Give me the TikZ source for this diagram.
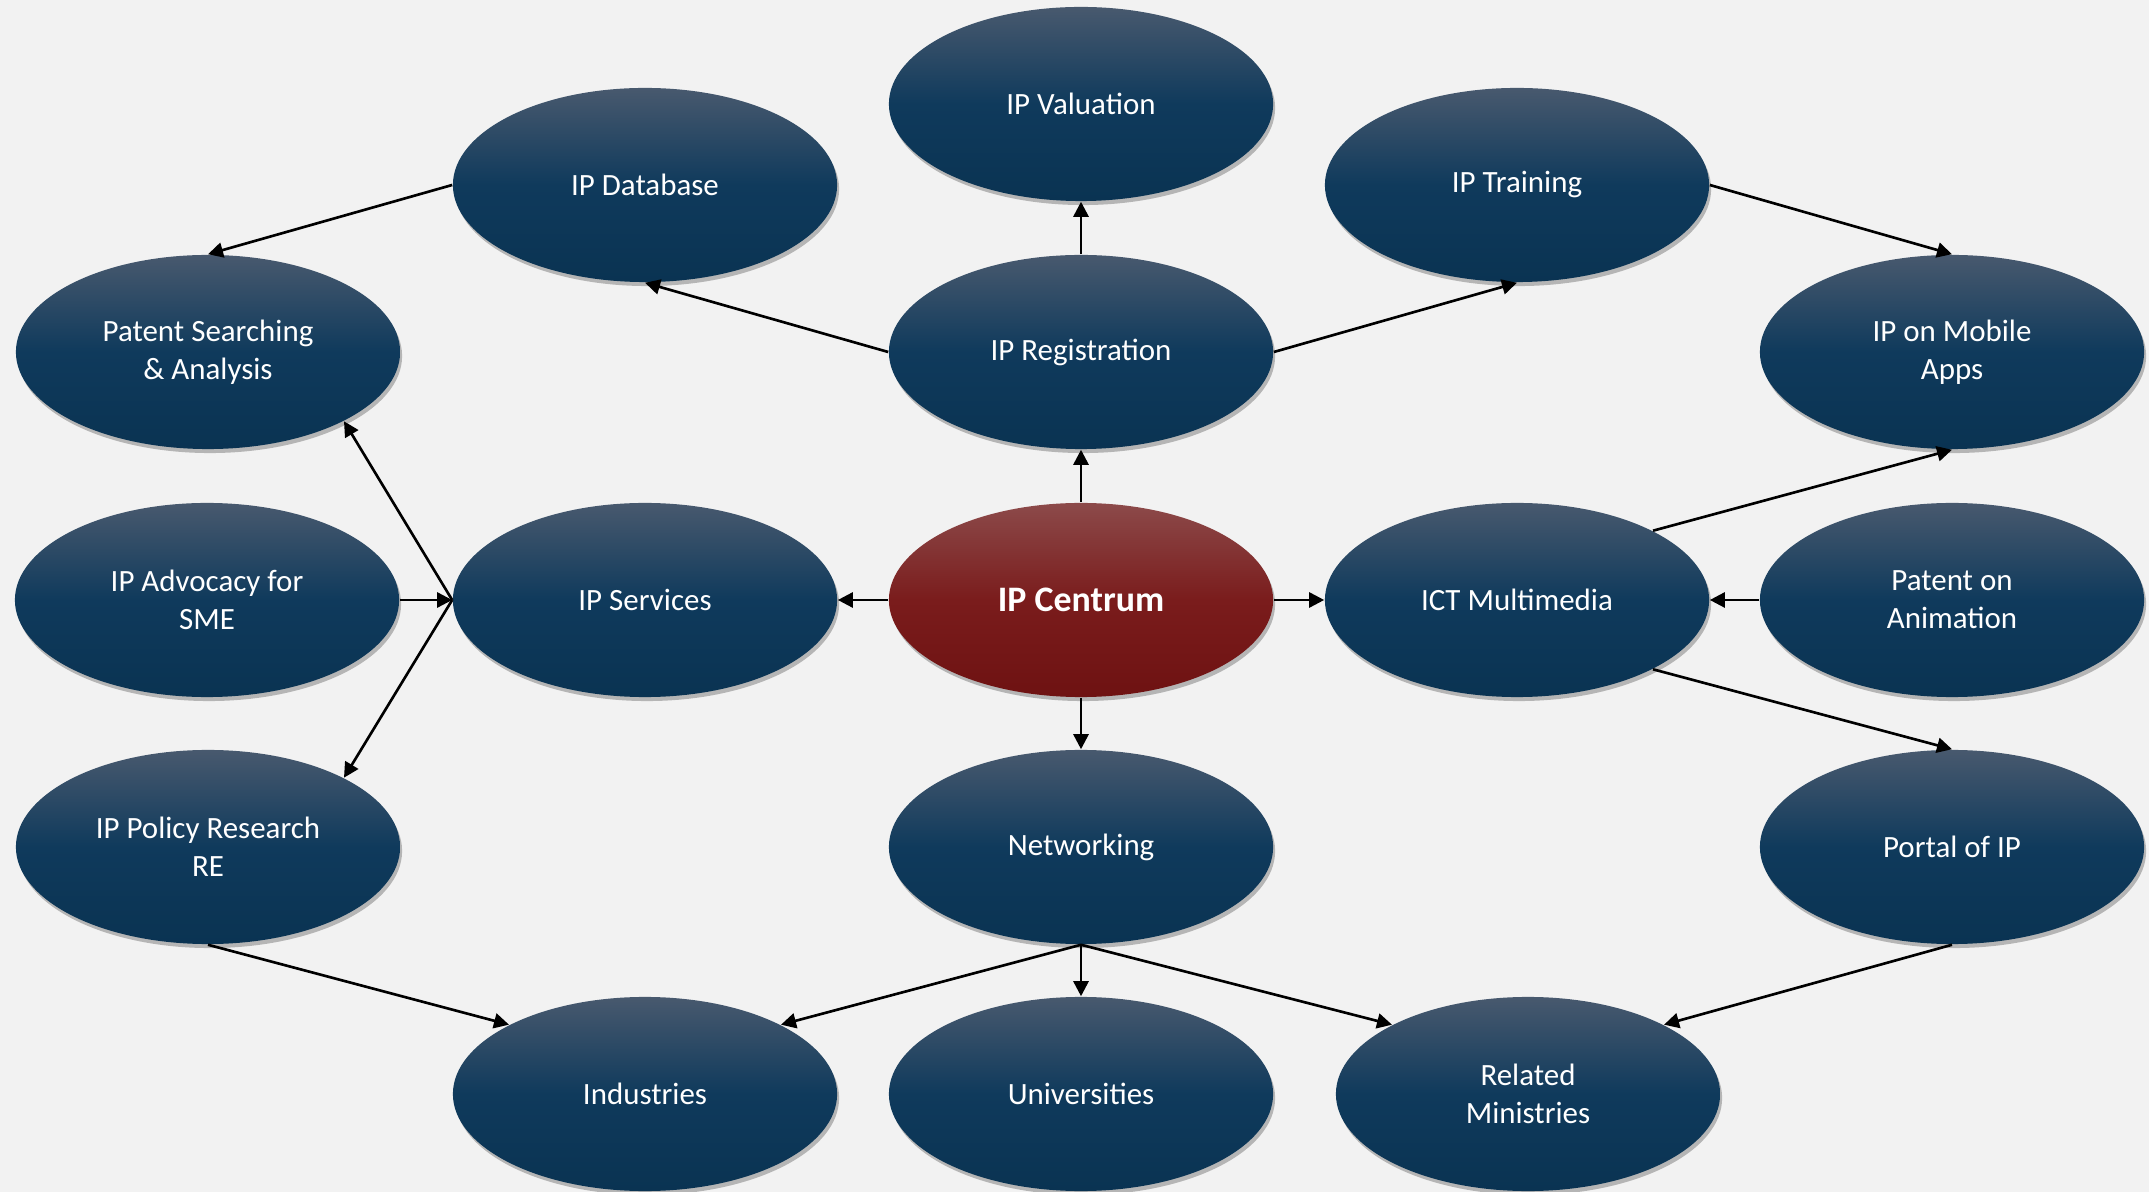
\documentclass[tikz,border=0pt]{standalone}
\usepackage{fontspec}
\setmainfont{Carlito}
\usetikzlibrary{shapes.geometric,arrows.meta,shadows}
\definecolor{bg}{HTML}{F2F2F2}
\definecolor{btop}{HTML}{48596E}
\definecolor{bmid}{HTML}{0F3A5C}
\definecolor{bbot}{HTML}{0A3352}
\definecolor{rtop}{HTML}{8C4A4A}
\definecolor{rmid}{HTML}{7A1C1C}
\definecolor{rbot}{HTML}{6E1212}
\pgfdeclareverticalshading{bluegrad}{100bp}{color(0bp)=(bbot); color(25bp)=(bbot); color(50bp)=(bmid); color(75bp)=(btop); color(100bp)=(btop)}
\pgfdeclareverticalshading{redgrad}{100bp}{color(0bp)=(rbot); color(25bp)=(rbot); color(50bp)=(rmid); color(75bp)=(rtop); color(100bp)=(rtop)}
\tikzset{
  bub/.style={ellipse, minimum width=3.84cm, minimum height=1.94cm, inner sep=0pt,
    shading=bluegrad, text=white, align=center,
    font=\fontsize{8.8}{10.8}\selectfont,
    drop shadow={shadow xshift=0.02cm, shadow yshift=-0.04cm, opacity=0.25, fill=black}},
  hub/.style={bub, shading=redgrad, font=\fontsize{10.2}{12}\selectfont\bfseries},
  arr/.style={draw=black, line width=0.75pt, -{Triangle[length=0.15cm, width=0.15cm]}},
  ln/.style={draw=black, line width=0.75pt}
}
\begin{document}
\begin{tikzpicture}[x=0.01cm, y=-0.01cm]
\fill[bg] (0,0) rectangle (2149,1192);
\useasboundingbox (0,0) rectangle (2149,1192);

\node[bub] (val) at (1081,104) {IP Valuation};
\node[bub] (db)  at (645,185)  {IP Database};
\node[bub] (tr)  at (1517,185) {IP Training};
\node[bub] (ps)  at (208,352)  {Patent Searching\\\& Analysis};
\node[bub] (reg) at (1081,352) {IP Registration};
\node[bub] (mob) at (1952,352) {IP on Mobile\\Apps};
\node[bub] (adv) at (207,600)  {IP Advocacy for\\SME};
\node[bub] (srv) at (645,600)  {IP Services};
\node[hub] (cen) at (1081,600) {IP Centrum};
\node[bub] (ict) at (1517,600) {ICT Multimedia};
\node[bub] (ani) at (1952,600) {Patent on\\Animation};
\node[bub] (pol) at (208,847)  {IP Policy Research\\RE};
\node[bub] (net) at (1081,847) {Networking};
\node[bub] (por) at (1952,847) {Portal of IP};
\node[bub] (ind) at (645,1094) {Industries};
\node[bub] (uni) at (1081,1094) {Universities};
\node[bub] (min) at (1528,1094) {Related\\Ministries};

\draw[arr] (cen.north) -- (reg.south);
\draw[arr] (reg.north) -- (val.south);
\draw[arr] (reg.west) -- (db.south);
\draw[arr] (reg.east) -- (tr.south);
\draw[arr] (db.west) -- (ps.north);
\draw[arr] (tr.east) -- (mob.north);
\draw[arr] (cen.west) -- (srv.east);
\draw[arr] (cen.east) -- (ict.west);
\draw[arr] (cen.south) -- (net.north);
\draw[arr] (adv.east) -- (srv.west);
\draw[arr] (srv.west) -- (ps.-27);
\draw[arr] (srv.west) -- (pol.27);
\draw[arr] (ict.27) -- (mob.south);
\draw[arr] (ani.west) -- (ict.east);
\draw[arr] (ict.-27) -- (por.north);
\draw[arr] (net.south) -- (uni.north);
\draw[arr] (net.south) -- (ind.27);
\draw[arr] (net.south) -- (min.153);
\draw[arr] (pol.south) -- (ind.153);
\draw[arr] (por.south) -- (min.27);
\end{tikzpicture}
\end{document}
